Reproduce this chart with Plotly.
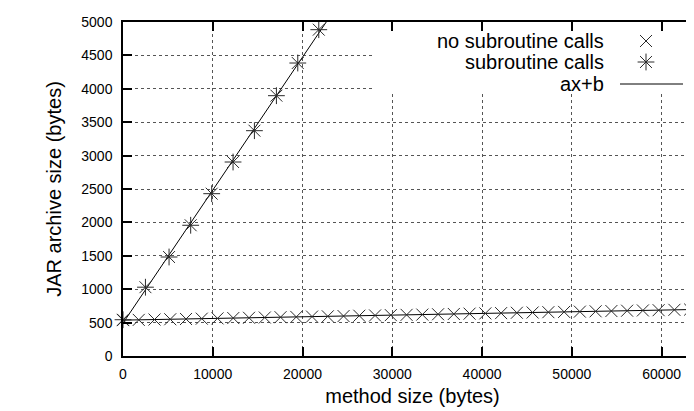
import numpy as np
import plotly.graph_objects as go

# ---- data ----
no_sub_x = [0, 1755, 3510, 5265, 7020, 8775, 10530, 12285, 14040, 15795, 17550,
            19305, 21060, 22815, 24570, 26325, 28080, 29835, 31590, 33345, 35100,
            36855, 38610, 40365, 42120, 43875, 45630, 47385, 49140, 50895, 52650,
            54405, 56160, 57915, 59670, 61425, 63180]
no_sub_y = [537, 541, 546, 550, 554, 559, 563, 568, 572, 576, 581,
            585, 590, 594, 598, 603, 607, 612, 616, 620, 625,
            629, 634, 638, 642, 647, 651, 656, 660, 664, 669,
            673, 678, 682, 686, 691, 695]
sub_x = [0, 2500, 5130, 7540, 9880, 12260, 14640, 17090, 19470, 21810]
sub_y = [543, 1030, 1482, 1957, 2430, 2904, 3373, 3897, 4386, 4885]

x_ticks = [0, 10000, 20000, 30000, 40000, 50000, 60000]
y_ticks = [0, 500, 1000, 1500, 2000, 2500, 3000, 3500, 4000, 4500, 5000]
legend_labels = ["no subroutine calls", "subroutine calls", "ax+b"]
x_title = "method size (bytes)"
y_title = "JAR archive size (bytes)"

# ---- layout constants ----
W, H = 694, 411
L, R, T, B = 115, 0, 14, 63
X_MAX = 64500
Y_MAX = 5000
FONT = "Liberation Sans, Arial, Helvetica, sans-serif"
FS_TICK = 14
FS_TEXT = 20
MARK = "#2a2a2a"
PW, PH = W - L - R, H - T - B

a1, b1 = np.polyfit(no_sub_x, no_sub_y, 1)
a2, b2 = np.polyfit(sub_x, sub_y, 1)
fit_x = np.array([0, X_MAX])

fig = go.Figure()

# fitted lines
fig.add_trace(go.Scatter(x=fit_x, y=a1 * fit_x + b1, mode="lines",
                         line=dict(color="black", width=1), showlegend=False))
fig.add_trace(go.Scatter(x=fit_x, y=a2 * fit_x + b2, mode="lines",
                         line=dict(color="black", width=1), showlegend=False))
# data points
fig.add_trace(go.Scatter(x=no_sub_x, y=no_sub_y, mode="markers",
                         marker=dict(symbol="x-thin", size=12,
                                     line=dict(color=MARK, width=1)),
                         showlegend=False, cliponaxis=False))
fig.add_trace(go.Scatter(x=sub_x, y=sub_y, mode="markers",
                         marker=dict(symbol="asterisk", size=14,
                                     line=dict(color=MARK, width=1)),
                         showlegend=False, cliponaxis=False))

# ---- gnuplot-style key on a pixel-unit overlay axis ----
kx0, kx1, ky0, ky1 = 367, 686, 15, 83
fig.add_trace(go.Scatter(x=[kx0, kx1, kx1, kx0, kx0], y=[ky0, ky0, ky1, ky1, ky0],
                         xaxis="x2", yaxis="y2", mode="lines", fill="toself",
                         fillcolor="white", line=dict(width=0, color="white"),
                         showlegend=False, hoverinfo="skip"))
rows_y = [33, 54, 76]
text_right = 598
sample_x = 638
fig.add_trace(go.Scatter(x=[sample_x], y=[rows_y[0]], xaxis="x2", yaxis="y2", mode="markers",
                         marker=dict(symbol="x-thin", size=12, line=dict(color=MARK, width=1)),
                         showlegend=False, hoverinfo="skip"))
fig.add_trace(go.Scatter(x=[sample_x], y=[rows_y[1]], xaxis="x2", yaxis="y2", mode="markers",
                         marker=dict(symbol="asterisk", size=14, line=dict(color=MARK, width=1)),
                         showlegend=False, hoverinfo="skip"))
fig.add_trace(go.Scatter(x=[612, 675], y=[rows_y[2], rows_y[2]], xaxis="x2", yaxis="y2",
                         mode="lines", line=dict(color="black", width=1),
                         showlegend=False, hoverinfo="skip"))
for lab, yy in zip(legend_labels, rows_y):
    fig.add_annotation(x=text_right, y=yy, xref="x2", yref="y2", text=lab,
                       showarrow=False, xanchor="right", yanchor="middle",
                       font=dict(family=FONT, size=FS_TEXT, color="black"))

axis_common = dict(showline=True, linecolor="black", linewidth=1.5,
                   ticks="inside", ticklen=9, tickwidth=1.5, tickcolor="black",
                   showgrid=True, gridcolor="#555", griddash="dot", gridwidth=1,
                   zeroline=False,
                   tickfont=dict(family=FONT, size=FS_TICK, color="black"))

# right-hand mirrored tick stubs (pixel positions of the y ticks)
right_tickvals = [H - B - v / Y_MAX * PH for v in y_ticks]

fig.update_layout(
    width=W, height=H,
    margin=dict(l=L, r=R, t=T, b=B, pad=0),
    paper_bgcolor="white", plot_bgcolor="white",
    font=dict(family=FONT, size=FS_TICK, color="black"),
    xaxis=dict(range=[0, X_MAX], tickvals=x_ticks, ticktext=[str(v) for v in x_ticks],
               mirror="ticks", ticklabelstandoff=4,
               title=dict(text=x_title, standoff=8,
                          font=dict(family=FONT, size=FS_TEXT, color="black")),
               **axis_common),
    yaxis=dict(range=[0, Y_MAX], tickvals=y_ticks, ticktext=[str(v) for v in y_ticks],
               mirror=False, ticklabelstandoff=6,
               title=dict(text=y_title, standoff=14,
                          font=dict(family=FONT, size=FS_TEXT, color="black")),
               **axis_common),
    xaxis2=dict(range=[L, W - R], overlaying="x", anchor="y2", visible=False, fixedrange=True),
    yaxis2=dict(range=[H - B, T], overlaying="y", anchor="free", position=1, side="right",
                tickmode="array", tickvals=right_tickvals, showticklabels=False,
                ticks="inside", ticklen=5, tickwidth=1.5, tickcolor="black",
                showline=False, showgrid=False, zeroline=False, fixedrange=True),
)

fig.write_html("out.html")
